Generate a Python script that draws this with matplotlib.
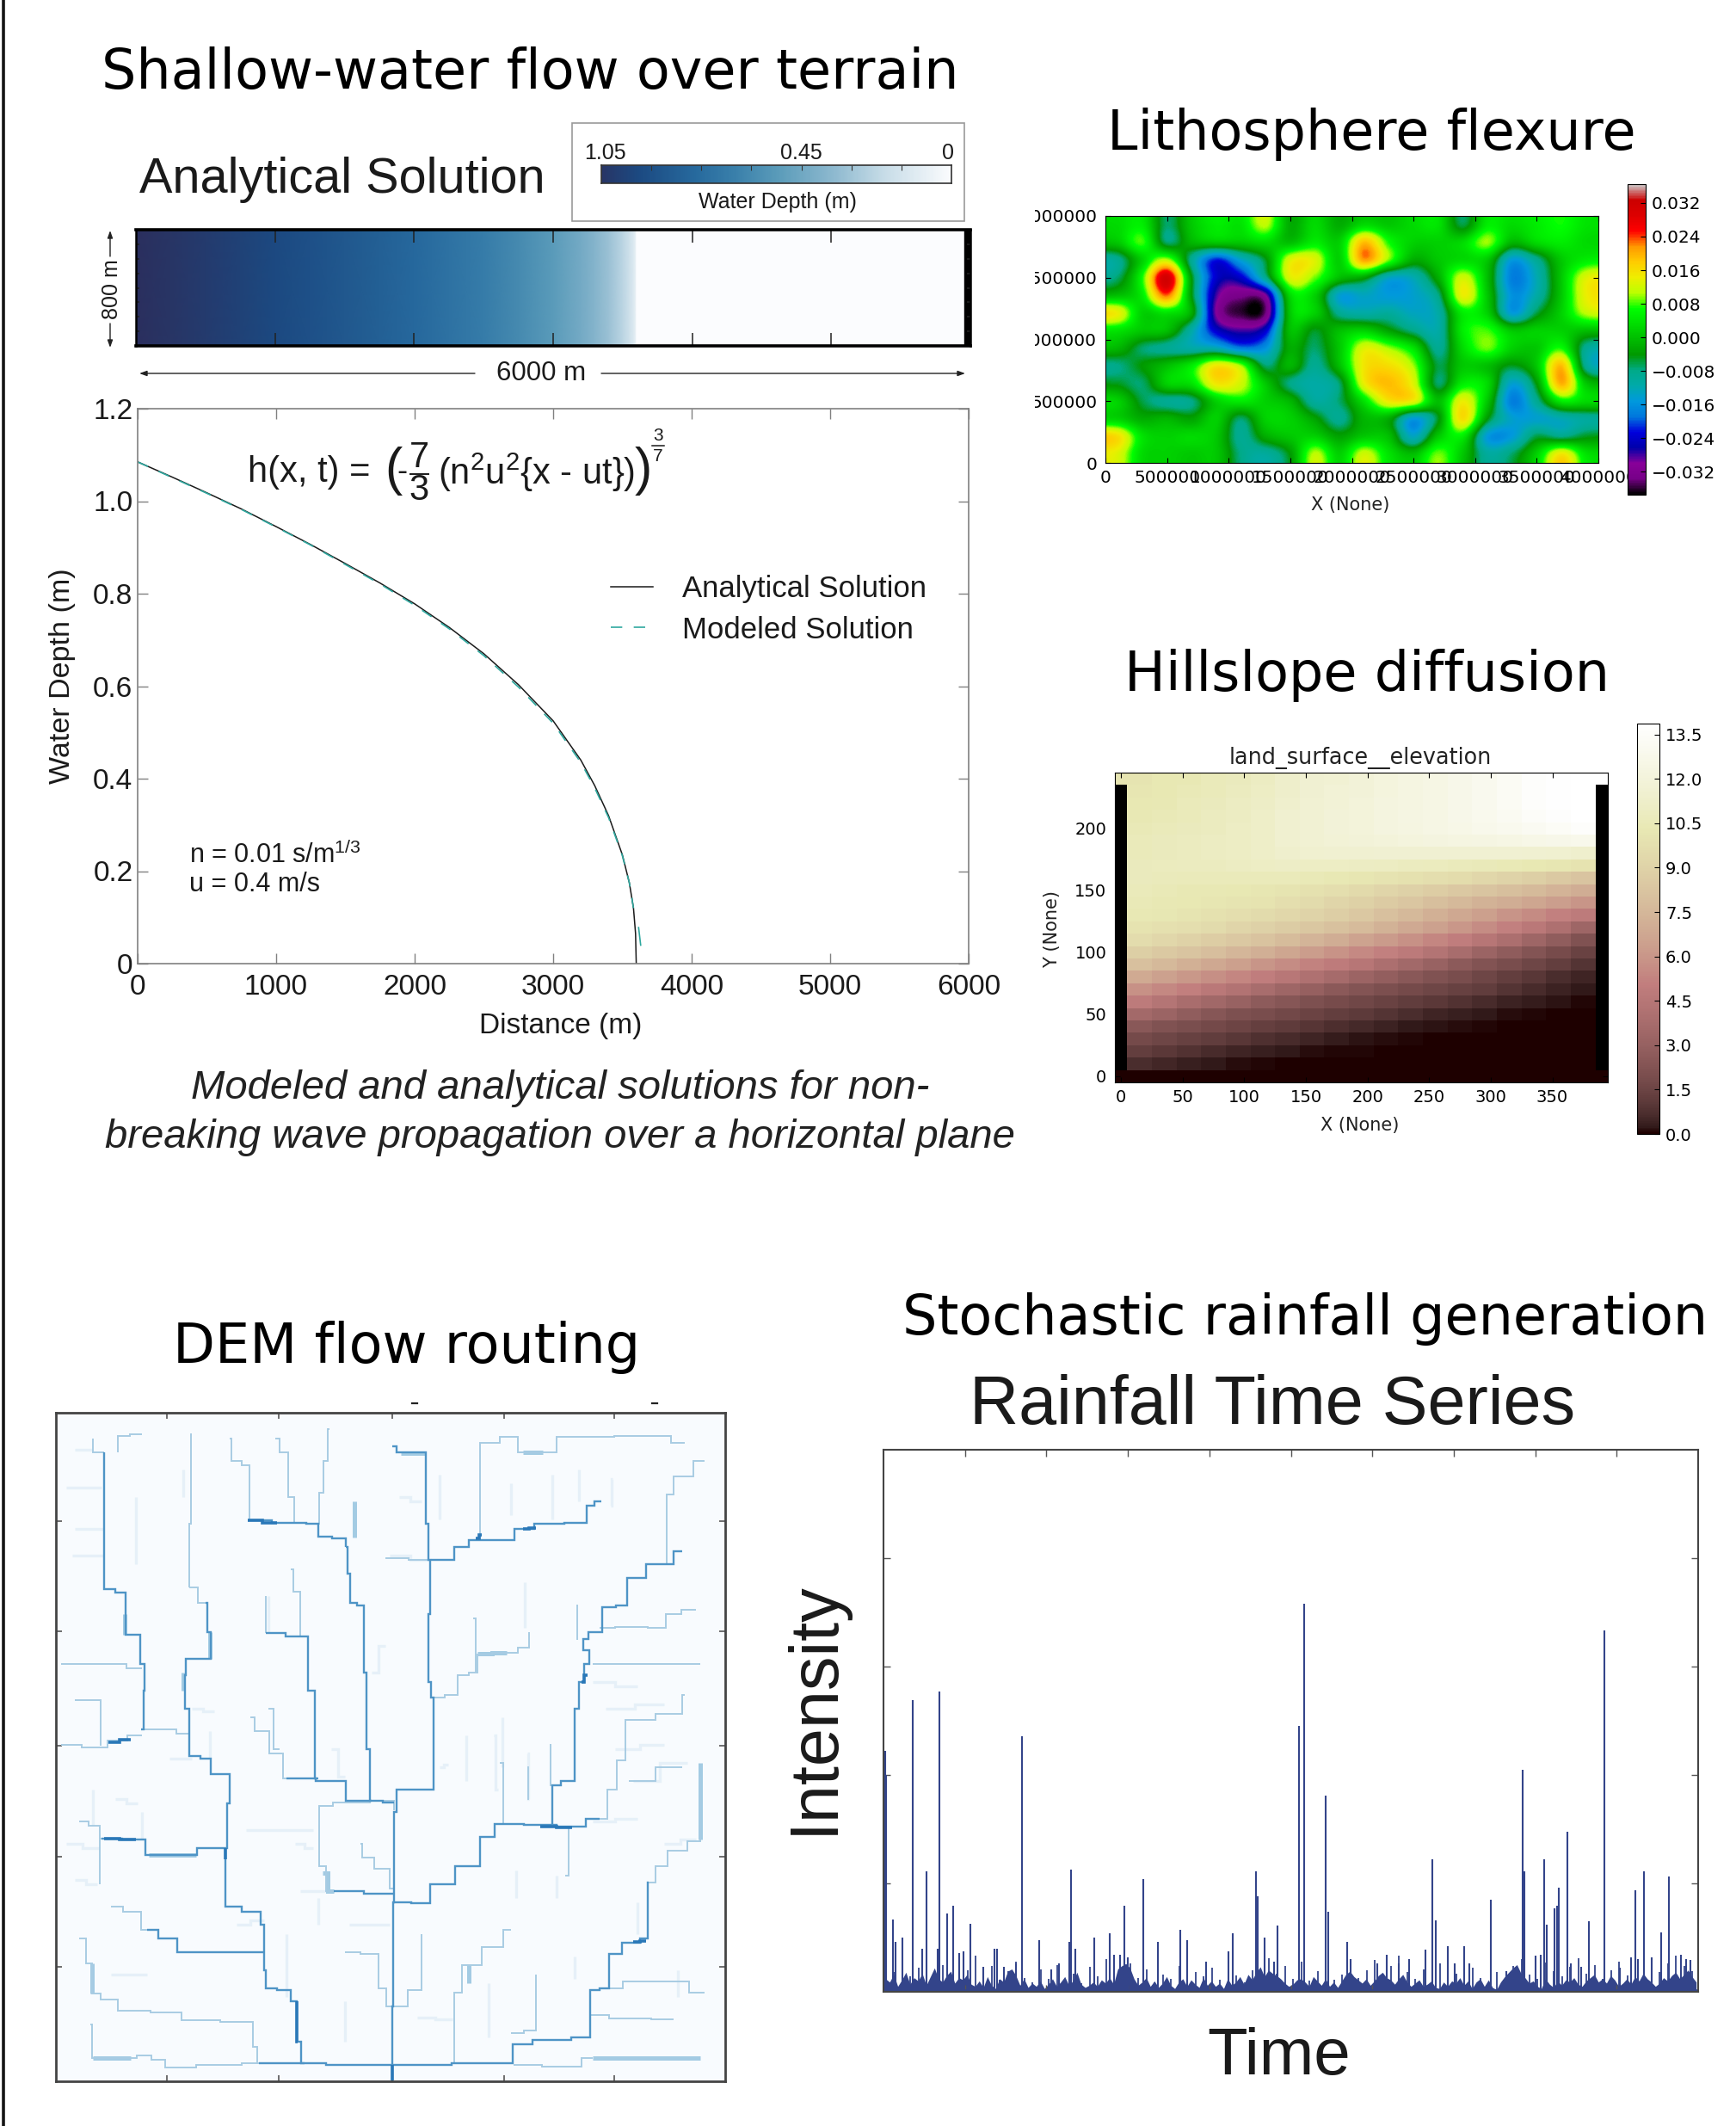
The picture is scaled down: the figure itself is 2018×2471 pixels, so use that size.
import numpy as np
import matplotlib
matplotlib.use('Agg')
import matplotlib.pyplot as plt
from matplotlib.colors import LinearSegmentedColormap
from matplotlib.patches import Rectangle
from matplotlib.ticker import FuncFormatter
from matplotlib.transforms import Bbox

W, H = 2018, 2471

# shallow water curve
distance = [0, 250, 500, 750, 1000, 1250, 1500, 1750, 2000, 2250, 2500, 2750, 3000, 3200, 3300, 3400, 3500, 3550, 3580, 3595, 3600]
analytical = [1.085, 1.052, 1.018, 0.983, 0.945, 0.906, 0.865, 0.823, 0.778, 0.727, 0.670, 0.603, 0.525, 0.44, 0.385, 0.32, 0.235, 0.175, 0.12, 0.065, 0.0]
modeled = [1.085, 1.051, 1.017, 0.982, 0.944, 0.905, 0.863, 0.821, 0.775, 0.724, 0.666, 0.598, 0.52, 0.435, 0.38, 0.316, 0.233, 0.175, 0.12]
modeled_tail_x = [3617, 3632]
modeled_tail_y = [0.078, 0.04]
strip_x = distance + [4000, 6000]
strip_h = analytical + [0.0, 0.0]
water_levels = [0, 0.2, 0.35, 0.52, 0.65, 0.77, 0.94, 1.085]
water_colors = ['#fbfcfe', '#c8dde8', '#8fbad0', '#5b9cba', '#3a80ab', '#276a9e', '#1c4a82', '#2b2f5e']

# lithosphere deflection, thousandths, top row first
flexure = [
    [3, 5, -7, 1, 5, 4, 11, -2, 3, -2, 3, 1, 3, 4, -6, 5, 3, 5, 7, 4],
    [1, 8, -7, -1, 1, 1, 3, 0, 5, 2, 19, 7, 2, 2, 3, 10, -1, 3, 5, 3],
    [-9, 2, 11, -9, -22, -14, -5, 13, 13, 2, 21, 9, -2, 1, 3, 1, -15, -9, 1, 5],
    [-7, 7, 31, -4, -24, -24, -9, 13, 9, 0, -3, -13, -12, -2, 12, 0, -18, -12, 1, 13],
    [0, 5, 23, -4, -28, -33, -30, 3, 2, -14, -13, -15, -14, -8, 14, 1, -16, -11, 1, 14],
    [14, 2, 4, -2, -30, -36, -34, 1, 2, -9, -11, -10, -13, -11, 5, 2, -15, -6, 2, 11],
    [4, 1, 0, -11, -24, -28, -24, 0, -5, 0, 2, -3, -8, -11, 5, 8, 1, 2, 2, 0],
    [-1, -7, -9, -11, -12, -18, -16, -2, -7, 1, 13, 10, 4, -9, 3, 9, 2, 1, 7, -9],
    [-8, -4, 0, 5, 15, 10, -7, -1, -9, 0, 15, 16, 10, -6, 1, 0, -5, 1, 19, -9],
    [-5, -7, 2, 4, 15, 12, 1, -8, -11, -7, 14, 19, 13, -7, 5, 3, -14, -4, 20, 1],
    [2, -6, -9, -8, 2, 5, 2, -1, -10, -7, 4, 15, 14, 0, 14, 1, -18, -9, 5, 3],
    [2, -2, -1, -3, 2, -7, 2, 2, -3, -9, -1, -2, -15, -5, 16, -4, -14, -14, -12, -10],
    [16, 4, 2, 3, 1, -9, -2, 1, 2, -3, 1, 0, -13, 1, 5, -15, -15, -6, -8, -5],
    [13, 3, 2, 1, 1, -8, -10, -4, 11, 2, 12, 4, 0, 9, 1, -10, -7, 2, 15, 4],
]

# hillslope elevation, rows bottom to top, every second column of the interior
elevation = [
    [0.0] * 19,
    [.7, .5, .34, .22, .14, .09, .05, .03, .01, 0, 0, 0, 0, 0, 0, 0, 0, 0, 0],
    [1.25, 1.05, .85, .65, .48, .34, .23, .15, .1, .06, .03, .01, 0, 0, 0, 0, 0, 0, 0],
    [1.8, 1.6, 1.4, 1.2, 1.0, .8, .6, .45, .31, .21, .14, .09, .05, .03, .01, 0, 0, 0, 0],
    [2.5, 2.2, 2.0, 1.75, 1.55, 1.35, 1.15, .95, .74, .55, .4, .27, .18, .11, .06, .03, .01, 0, 0],
    [3.6, 3.2, 2.8, 2.4, 2.1, 1.9, 1.7, 1.5, 1.3, 1.1, .9, .68, .48, .33, .22, .14, .08, .04, .02],
    [4.85, 4.4, 3.9, 3.5, 3.1, 2.7, 2.4, 2.1, 1.85, 1.65, 1.45, 1.23, 1.03, .83, .62, .42, .28, .17, .09],
    [5.8, 5.45, 5.1, 4.7, 4.3, 3.8, 3.4, 3.0, 2.6, 2.3, 2.05, 1.8, 1.6, 1.4, 1.2, .9, .65, .42, .25],
    [6.9, 6.5, 6.1, 5.7, 5.4, 5.0, 4.6, 4.15, 3.7, 3.3, 2.9, 2.5, 2.2, 1.9, 1.6, 1.3, 1.0, .7, .45],
    [8.0, 7.6, 7.2, 6.8, 6.4, 6.0, 5.6, 5.25, 4.9, 4.5, 4.0, 3.55, 3.1, 2.65, 2.25, 1.95, 1.6, 1.25, .9],
    [8.8, 8.5, 8.2, 7.9, 7.5, 7.1, 6.7, 6.3, 5.9, 5.5, 5.15, 4.8, 4.35, 3.8, 3.25, 2.75, 2.3, 1.85, 1.45],
    [9.6, 9.3, 9.0, 8.7, 8.4, 8.15, 7.8, 7.4, 7.0, 6.6, 6.2, 5.8, 5.4, 5.0, 4.5, 4.0, 3.4, 2.8, 2.2],
    [10.0, 9.85, 9.7, 9.5, 9.2, 8.95, 8.65, 8.35, 8.05, 7.7, 7.3, 6.85, 6.45, 6.05, 5.6, 5.2, 4.7, 4.1, 3.4],
    [10.4, 10.25, 10.1, 9.9, 9.7, 9.5, 9.3, 9.05, 8.75, 8.4, 8.0, 7.6, 7.2, 6.8, 6.4, 5.95, 5.55, 5.2, 4.85],
    [10.5, 10.4, 10.3, 10.2, 10.1, 10.0, 9.75, 9.5, 9.2, 8.9, 8.6, 8.3, 7.95, 7.6, 7.3, 7.0, 6.7, 6.35, 6.0],
    [10.6, 10.5, 10.4, 10.4, 10.3, 10.2, 10.1, 9.9, 9.7, 9.45, 9.2, 8.95, 8.7, 8.45, 8.2, 7.95, 7.65, 7.35, 7.0],
    [10.7, 10.65, 10.6, 10.6, 10.6, 10.6, 10.6, 10.5, 10.35, 10.2, 10.05, 9.9, 9.7, 9.55, 9.3, 9.1, 8.8, 8.5, 8.2],
    [10.7, 10.75, 10.8, 10.8, 10.9, 11.0, 11.1, 11.05, 11.0, 10.95, 10.9, 10.8, 10.75, 10.65, 10.55, 10.45, 10.3, 10.2, 10.0],
    [10.6, 10.7, 10.8, 10.9, 11.0, 11.2, 11.4, 11.5, 11.55, 11.55, 11.6, 11.6, 11.6, 11.6, 11.6, 11.6, 11.55, 11.5, 11.4],
    [10.6, 10.7, 10.8, 10.9, 11.0, 11.2, 11.5, 11.7, 11.8, 11.9, 12.0, 12.1, 12.2, 12.3, 12.4, 12.5, 12.6, 12.7, 12.8],
    [10.5, 10.6, 10.7, 10.8, 11.0, 11.2, 11.5, 11.7, 11.9, 12.0, 12.2, 12.3, 12.5, 12.6, 12.8, 13.0, 13.2, 13.4, 13.6],
    [10.4, 10.5, 10.6, 10.8, 10.9, 11.2, 11.5, 11.7, 11.9, 12.0, 12.2, 12.4, 12.5, 12.7, 12.9, 13.2, 13.5, 13.7, 13.9],
    [10.3, 10.4, 10.6, 10.7, 10.9, 11.1, 11.4, 11.7, 11.8, 12.0, 12.2, 12.3, 12.5, 12.7, 13.0, 13.3, 13.6, 13.8, 13.9],
    [10.2, 10.3, 10.5, 10.6, 10.8, 11.0, 11.3, 11.6, 11.8, 11.9, 12.1, 12.3, 12.5, 12.7, 13.0, 13.3, 13.6, 13.8, 13.9],
    [10.1, 10.3, 10.4, 10.6, 10.7, 10.9, 11.3, 11.6, 11.7, 11.9, 12.1, 12.3, 12.5, 12.7, 13.0, 13.3, 13.6, 13.8, 13.9],
]

# rainfall
rain_times = [.2, .3, 1.2, 1.5, 2.3, 3.6, 4.7, 5.3, 6.6, 6.9, 7.8, 8.6, 9.3, 9.8, 10.7, 12.2, 13.6, 13.9, 14.8, 16.3,
              17.0, 19.1, 20.6, 21.5, 22.8, 23.0, 23.5, 25.9, 27.8, 28.3, 29.0, 29.6, 30.0, 31.9, 33.7, 36.4, 37.3,
              39.6, 42.3, 42.9, 45.7, 45.9, 46.8, 47.9, 48.4, 51.0, 51.6, 54.3, 54.6, 56.9, 57.3, 60.6, 61.8, 63.3,
              64.5, 66.5, 67.4, 67.8, 69.3, 70.1, 71.3, 71.9, 74.6, 76.5, 78.5, 78.7, 80.0, 80.7, 81.1, 81.4, 82.4,
              82.7, 82.9, 83.9, 84.4, 85.6, 86.6, 88.5, 90.4, 91.8, 92.3, 92.6, 93.4, 94.3, 95.5, 96.4, 97.9, 98.5, 99.1]
rain_values = [2.22, 2.0, .67, .46, .50, 2.69, .40, 1.11, .40, 2.77, .72, .79, .36, .37, .63, .23, .40, .40, .23, .26,
               2.36, .48, .21, .26, .46, 1.13, .40, .50, .54, .34, .34, .79, .32, 1.04, .46, .57, .48,
               .28, .37, .54, 1.11, .88, .50, .28, .61, 2.45, 3.58, 1.81, .74, .46, .30, .26, .34, .26,
               .30, .39, 1.22, .66, .42, .26, .42, .26, .85, .19, 2.05, 1.11, .33, .34, 1.22, .62, .77,
               .79, .96, 1.48, .26, .23, .65, 3.33, .22, .32, .94, .30, 1.11, .32, .55, 1.06, .34, .30, .29]
rain_base = [.12, .09, .16, .05, .11, .18, .07, .13, .10, .17, .06, .14, .22, .12, .09, .15, .19, .08, .13, .11,
             .16, .07, .05, .10, .04, .14, .06, .03, .12, .09, .19, .21, .15, .06, .12, .04, .08, .05, .10, .03,
             .07, .12, .05, .09, .14, .06, .10, .18, .07, .04, .06, .09, .05, .11, .08, .13, .07, .21, .24, .26,
             .22, .12, .06, .09, .13, .05, .10, .04, .08, .14, .06, .03, .09, .12, .05, .11, .07, .04, .13, .06,
             .10, .05, .08, .03, .12, .06, .09, .14, .07, .16, .11, .18, .23, .14, .20, .17, .15, .12, .08, .05,
             .07, .11, .12, .09, .05, .14, .10, .06, .12, .05, .09, .04, .10, .16, .19, .14, .11, .08, .12, .06,
             .10, .15, .18, .13, .11, .07, .12, .16, .09, .05, .08, .11, .05, .07, .10, .04, .03, .09, .05, .10,
             .08, .13, .06, .10, .03, .09, .12, .05, .11, .04, .02, .09, .14, .18, .22, .25, .17, .13, .08, .10,
             .05, .03, .12, .07, .04, .10, .06, .11, .09, .13, .07, .05, .10, .13, .16, .09, .12, .08, .15, .11,
             .05, .08, .12, .07, .14, .10, .17, .12, .09, .05, .08, .13, .10, .15, .18, .12, .16, .20, .14, .09]
rain_small = [.31, .18, .27, .14, .22, .35, .16, .25, .12, .29, .20, .33, .15, .24, .11, .19, .28, .13, .09, .21,
              .12, .25, .10, .17, .08, .23, .14, .30, .11, .19, .26, .13, .21, .09, .16, .12, .24, .10, .18, .14,
              .22, .11, .27, .15, .09, .20, .13, .31, .17, .24, .12, .28, .10, .19, .23, .11, .16, .25, .13, .20,
              .29, .15, .24, .33, .18, .12, .21, .09, .26, .14, .17, .10, .22, .13, .09, .18, .11, .24, .30, .16,
              .12, .27, .19, .14, .23, .31, .17, .25, .12, .20, .28, .15, .22, .11, .29, .18, .26, .33, .24, .19]

# flow network, channel paths on the DEM grid
main_channels = [
    [(795, 1525), (795, 1360), (800, 1130), (800, 930), (808, 880), (888, 880), (888, 675), (875, 640), (875, 490), (882, 370), (870, 290), (868, 130), (815, 130), (795, 118)],
    [(882, 370), (920, 370), (945, 340), (985, 325), (1045, 325), (1090, 300), (1130, 290), (1225, 288), (1228, 250), (1260, 240)],
    [(692, 340), (700, 400), (705, 465), (728, 470), (735, 620), (740, 790), (750, 905), (800, 908)],
    [(475, 282), (580, 288), (630, 290), (630, 318), (692, 322), (692, 340)],
    [(155, 130), (155, 435), (205, 442), (200, 535), (230, 535), (242, 600), (248, 660), (238, 745)],
    [(425, 1010), (425, 1140), (495, 1150), (510, 1180), (510, 1280), (520, 1320), (560, 1325), (580, 1350), (585, 1440), (600, 1487)],
    [(500, 1487), (795, 1490), (1060, 1487), (1065, 1445), (1150, 1435), (1235, 1430), (1235, 1325), (1275, 1320), (1280, 1245), (1330, 1220), (1360, 1210), (1365, 1085)],
    [(800, 1130), (875, 1132), (885, 1090), (985, 1050), (995, 985), (1050, 955), (1125, 958), (1195, 962), (1255, 945)],
    [(1150, 958), (1150, 870), (1190, 860), (1210, 700), (1210, 640), (1235, 600), (1230, 570), (1208, 545), (1255, 530), (1270, 475), (1315, 470), (1320, 410), (1400, 380), (1440, 350)],
    [(150, 988), (240, 990), (255, 1025), (360, 1025), (362, 1010), (425, 1010), (430, 910), (437, 845), (395, 845), (390, 810), (350, 805), (340, 700), (330, 625), (345, 590), (395, 590), (390, 530), (380, 465)],
    [(560, 855), (690, 860), (695, 905), (750, 905)],
    [(630, 855), (615, 660), (600, 540), (515, 532)],
    [(665, 1105), (800, 1110)],
    [(510, 1240), (335, 1240), (300, 1210), (250, 1190)],
]
side_channels = [
    [(985, 325), (995, 110), (1075, 97), (1075, 130), (1130, 130), (1190, 97), (1385, 95), (1445, 110)],
    [(475, 282), (480, 160), (440, 150), (435, 100)],
    [(580, 285), (575, 230), (555, 130), (535, 100)],
    [(630, 290), (635, 220), (650, 150), (655, 80)],
    [(560, 855), (545, 800), (500, 750), (480, 720)],
    [(155, 130), (130, 130), (130, 100)],
    [(185, 130), (185, 95), (240, 90)],
    [(345, 430), (345, 290), (350, 90)],
    [(380, 465), (345, 430)],
    [(238, 745), (290, 745), (340, 755), (350, 805)],
    [(240, 760), (175, 770), (150, 785), (60, 780)],
    [(150, 988), (140, 960), (100, 950)],
    [(225, 1150), (170, 1140)],
    [(250, 1190), (225, 1150)],
    [(128, 1265), (128, 1332), (165, 1345), (205, 1370), (310, 1375), (345, 1392), (480, 1395), (490, 1450), (500, 1487)],
    [(130, 1475), (215, 1475), (240, 1470), (280, 1480), (300, 1497), (420, 1490), (500, 1487)],
    [(1065, 1490), (1190, 1495), (1240, 1475)],
    [(1235, 1380), (1320, 1388), (1420, 1390)],
    [(1275, 1320), (1340, 1305), (1420, 1305), (1490, 1330)],
    [(795, 1360), (770, 1320), (760, 1245), (690, 1240)],
    [(930, 1487), (935, 1330), (965, 1270), (1025, 1230), (1060, 1190)],
    [(800, 1360), (860, 1325), (860, 1200)],
    [(1060, 1420), (1115, 1415), (1115, 1290)],
    [(888, 675), (935, 670), (945, 625), (985, 620), (985, 580), (1050, 575), (1100, 565), (1100, 530)],
    [(985, 620), (975, 500)],
    [(1195, 962), (1180, 1070)],
    [(1255, 520), (1325, 518), (1400, 520), (1405, 490), (1470, 480)],
    [(1240, 600), (1480, 600)],
    [(1400, 380), (1410, 260), (1400, 225), (1440, 185), (1490, 150)],
    [(1255, 945), (1290, 880), (1300, 815), (1325, 725), (1435, 712), (1445, 670)],
    [(1365, 1085), (1395, 1050), (1420, 1015), (1480, 995), (1480, 850)],
    [(800, 1100), (780, 1055), (730, 1030), (725, 1000)],
    [(800, 925), (800, 905), (690, 908), (635, 915), (630, 1050), (665, 1105)],
    [(600, 540), (580, 440), (570, 390)],
    [(515, 532), (515, 450)],
    [(60, 600), (170, 600), (240, 610)],
    [(90, 680), (145, 680), (150, 780)],
    [(780, 365), (882, 370)],
    [(125, 1400), (130, 1475)],
    [(1208, 545), (1205, 470)],
    [(1050, 955), (1035, 820)],
    [(1100, 900), (1095, 830)],
    [(100, 1210), (130, 1265)],
    [(145, 990), (145, 1090)],
    [(1150, 870), (1145, 780)],
    [(520, 700), (545, 790)],
    [(1320, 860), (1440, 830)],
]
wide_channels = [
    [(130, 1475), (215, 1475)],
    [(1240, 1475), (1480, 1475)],
    [(255, 1025), (360, 1025)],
    [(128, 1265), (128, 1332)],
    [(200, 490), (200, 535)],
    [(330, 620), (330, 660)],
    [(390, 530), (390, 590)],
    [(712, 240), (712, 320)],
    [(815, 132), (868, 132)],
    [(1480, 820), (1480, 990)],
    [(1085, 130), (1130, 130)],
    [(985, 578), (1050, 575)],
    [(640, 1065), (665, 1105)],
    [(965, 1270), (965, 1310)],
]
dark_channels = [
    [(1125, 962), (1195, 964)],
    [(165, 775), (215, 768)],
    [(425, 1010), (425, 1035)],
    [(795, 1490), (795, 1525)],
    [(1085, 300), (1115, 298)],
    [(980, 322), (995, 315)],
    [(583, 1350), (585, 1440)],
    [(1215, 640), (1230, 625)],
    [(1330, 1218), (1360, 1215)],
    [(155, 988), (225, 990)],
    [(475, 282), (540, 288)],
]
faint_channels = [
    [(70, 210), (150, 210)], [(90, 125), (130, 125)], [(330, 170), (330, 230)], [(520, 450), (520, 530)],
    [(85, 360), (155, 360)], [(225, 230), (225, 380)], [(790, 360), (880, 370)], [(1240, 640), (1340, 650)],
    [(1020, 760), (1030, 880)], [(1095, 800), (1100, 900)], [(1290, 790), (1400, 780)], [(1330, 860), (1450, 820)],
    [(590, 1105), (665, 1105)], [(700, 1180), (790, 1180)], [(1040, 720), (1040, 830)], [(240, 930), (240, 990)],
    [(390, 750), (390, 810)], [(130, 880), (130, 960)], [(1160, 1120), (1160, 1070)], [(1070, 1060), (1070, 1120)],
    [(630, 1120), (630, 1180)], [(560, 1200), (560, 1340)], [(1200, 1300), (1200, 1250)], [(1430, 1280), (1430, 1340)],
    [(450, 1180), (510, 1170)], [(1280, 250), (1285, 190)], [(1210, 170), (1210, 240)], [(1090, 420), (1090, 520)],
    [(1400, 1000), (1470, 990)], [(180, 900), (230, 910)], [(350, 700), (400, 705)], [(660, 790), (690, 850)],
    [(780, 560), (750, 620)], [(900, 830), (920, 825)], [(810, 230), (860, 240)], [(1240, 950), (1340, 945)],
    [(70, 1000), (145, 1010)], [(90, 300), (155, 300)], [(90, 1080), (140, 1090)], [(170, 1290), (250, 1290)],
    [(1150, 180), (1150, 280)], [(1060, 200), (1060, 270)], [(900, 180), (900, 280)], [(1270, 700), (1400, 690)],
    [(1340, 1130), (1340, 1200)], [(1010, 1310), (1010, 1430)], [(690, 1350), (690, 1440)], [(850, 1385), (930, 1390)],
    [(580, 1000), (620, 1010)], [(470, 970), (620, 970)], [(960, 760), (960, 860)], [(300, 810), (350, 810)],
]
dem_xticks = [295, 543, 795, 1043, 1288]
dem_yticks = [283, 528, 782, 1028, 1273]

plt.rcParams['mathtext.fontset'] = 'custom'
plt.rcParams['mathtext.rm'] = 'Liberation Sans'
plt.rcParams['mathtext.it'] = 'Liberation Sans:italic'
plt.rcParams['mathtext.bf'] = 'Liberation Sans:bold'

fig = plt.figure(figsize=(W / 100, H / 100), dpi=100, facecolor='white')


def px_axes(x0, y0, x1, y1, **kw):
    return fig.add_axes([x0 / W, 1 - y1 / H, (x1 - x0) / W, (y1 - y0) / H], **kw)


page = px_axes(0, 0, W, H)
page.set_xlim(0, W)
page.set_ylim(H, 0)
page.axis('off')
page.set_zorder(10)
page.plot([3.5, 3.5], [0, H], color='#151515', lw=2.6)

''' Заголовки панелей '''
title_font = dict(family='DejaVu Sans', fontsize=45.8, ha='center', va='center', color='black')
page.text(616, 85, 'Shallow-water flow over terrain', **title_font)
page.text(1594, 156, 'Lithosphere flexure', **title_font)
page.text(1589, 785, 'Hillslope diffusion', **title_font)
page.text(473, 1566, 'DEM flow routing', **title_font)
page.text(1517, 1533, 'Stochastic rainfall generation', **title_font)

''' Shallow water '''
helv = dict(family='Liberation Sans', color='#1a1a1a')
water_cmap = LinearSegmentedColormap.from_list('water', [(v / water_levels[-1], c) for v, c in zip(water_levels, water_colors)])

page.text(162, 209, 'Analytical Solution', fontsize=41.5, ha='left', va='center', **helv)
page.add_patch(Rectangle((665, 143), 456, 114, fill=False, ec='#999999', lw=1.2))
page.text(703, 178, '1.05', fontsize=18, ha='center', va='center', **helv)
page.text(931, 178, '0.45', fontsize=18, ha='center', va='center', **helv)
page.text(1102, 178, '0', fontsize=18, ha='center', va='center', **helv)
page.text(904, 235, 'Water Depth (m)', fontsize=18, ha='center', va='center', **helv)

bar = px_axes(699, 192, 1106, 213)
bar.imshow(np.linspace(1.05, 0, 300)[None, :], cmap=water_cmap, vmin=0, vmax=water_levels[-1], aspect='auto', extent=[1.05, 0, 0, 1])
bar.set_xticks(np.arange(0.15, 1.05, 0.15))
bar.set_yticks([])
bar.tick_params(axis='x', direction='in', top=True, bottom=False, labelbottom=False, length=4, color='#333333')
for s in bar.spines.values():
    s.set_color('#333333')
    s.set_linewidth(1.2)

strip = px_axes(158, 267, 1128, 402)
strip.pcolormesh(strip_x, [0, 800], np.vstack([strip_h, strip_h]), shading='gouraud', cmap=water_cmap, vmin=0, vmax=water_levels[-1])
strip.axvspan(5955, 6000, color='black')
strip.set_xlim(0, 6000)
strip.set_ylim(0, 800)
strip.set_xticks(np.arange(1000, 6000, 1000))
strip.set_yticks(np.arange(100, 800, 100))
strip.tick_params(direction='in', top=True, right=True, labelbottom=False, labelleft=False, length=11, width=1.1, color='#222222')
strip.tick_params(axis='y', length=3)
for side, lw in [('top', 2.6), ('bottom', 2.6), ('left', 1.8), ('right', 1.8)]:
    strip.spines[side].set_linewidth(lw)

arrow = dict(arrowstyle='-|>,head_width=0.18,head_length=0.5', color='#222222', lw=1.0, shrinkA=0, shrinkB=0)
page.annotate('', xy=(128, 268), xytext=(128, 298), arrowprops=arrow)
page.annotate('', xy=(128, 404), xytext=(128, 376), arrowprops=arrow)
page.text(130, 336, '800 m', fontsize=18, rotation=90, ha='center', va='center', **helv)
page.annotate('', xy=(162, 434), xytext=(552, 434), arrowprops=arrow)
page.annotate('', xy=(1122, 434), xytext=(699, 434), arrowprops=arrow)
page.text(629, 434, '6000 m', fontsize=22.5, ha='center', va='center', **helv)

ax = px_axes(160, 475, 1126, 1120)
ax.plot(distance, analytical, color='#1a1a1a', lw=1.1, label='Analytical Solution')
ax.plot(distance[:len(modeled)], modeled, color='#2fa89f', lw=1.2, ls=(0, (8, 8)), label='Modeled Solution')
ax.plot(modeled_tail_x, modeled_tail_y, color='#2fa89f', lw=1.2)
ax.set_xlim(0, 6000)
ax.set_ylim(0, 1.2)
ax.set_xticks(np.arange(0, 7000, 1000))
ax.set_yticks([0, 0.2, 0.4, 0.6, 0.8, 1.0, 1.2])
ax.set_yticklabels(['0', '0.2', '0.4', '0.6', '0.8', '1.0', '1.2'])
ax.tick_params(direction='in', top=True, right=True, length=8.5, width=1, color='#808080', labelsize=24, labelcolor='#1a1a1a')
ax.tick_params(axis='x', pad=9)
ax.tick_params(axis='y', pad=4)
for label in ax.get_xticklabels() + ax.get_yticklabels():
    label.set_family('Liberation Sans')
for s in ax.spines.values():
    s.set_color('#808080')
    s.set_linewidth(1.2)
ax.legend(loc='upper left', bbox_to_anchor=(710 / W, 1 - 668 / H), bbox_transform=fig.transFigure, frameon=False,
          borderpad=0, borderaxespad=0, handlelength=1.42, handletextpad=0.98, labelspacing=0.42,
          prop=dict(family='Liberation Sans', size=25), labelcolor='#1a1a1a')
page.text(73, 786, 'Water Depth (m)', fontsize=24.5, rotation=90, ha='center', va='center', **helv)
page.text(652, 1192, 'Distance (m)', fontsize=24, ha='center', va='center', **helv)

# formula set piece by piece
page.text(288, 549, 'h(x, t) =', fontsize=30, ha='left', va='center', **helv)
page.text(447, 547, '(', fontsize=44, ha='left', va='center', **helv)
page.text(461, 549, '-', fontsize=26, ha='left', va='center', **helv)
page.text(487, 532, '7', fontsize=30, ha='center', va='center', **helv)
page.text(487, 570, '3', fontsize=30, ha='center', va='center', **helv)
page.plot([477, 498], [551, 551], color='#1a1a1a', lw=1.4)
page.text(509, 549, '(n$^2$u$^2${x - ut})', fontsize=30, ha='left', va='center', **helv)
page.text(738, 547, ')', fontsize=44, ha='left', va='center', **helv)
page.text(765, 507, '3', fontsize=15, ha='center', va='center', **helv)
page.text(765, 530, '7', fontsize=15, ha='center', va='center', **helv)
page.plot([758, 772], [518, 518], color='#1a1a1a', lw=1.1)

page.text(220, 994, r'n = 0.01 s/m$^{1/3}$', fontsize=22, ha='left', va='center', **helv)
page.text(220, 1028, 'u = 0.4 m/s', fontsize=22, ha='left', va='center', **helv)
caption = dict(family='Liberation Sans', style='italic', fontsize=34, color='#222222', ha='center', va='center')
page.text(651, 1265, 'Modeled and analytical solutions for non-', **caption)
page.text(651, 1322, 'breaking wave propagation over a horizontal plane', **caption)

''' Lithosphere '''
ax = px_axes(1285, 251, 1858, 538)
im = ax.imshow(np.array(flexure) / 1000, cmap='nipy_spectral', vmin=-0.0375, vmax=0.0365, aspect='auto',
               extent=[0, 4000000, 0, 2000000], interpolation='catrom')
ax.set_xticks(np.arange(0, 4500000, 500000))
ax.set_yticks(np.arange(0, 2500000, 500000))
ax.set_xticklabels(['0', '500000', '1000000', '1500000', '2000000', '2500000', '3000000', '3500000', '4000000'])
ax.set_yticklabels(['0', '500000', '1000000', '1500000', '2000000'])
ax.tick_params(direction='in', top=True, right=True, length=4, labelsize=14.4, pad=6)
ax.tick_params(axis='y', pad=7)
for label in ax.get_yticklabels():
    label.set_clip_on(True)
    label.set_clip_box(Bbox([[1203, 0], [W, H]]))
page.text(1570, 587, 'X (None)', fontsize=15, ha='center', va='center', color='#222222')
cax = px_axes(1892, 214, 1913, 575)
cb = fig.colorbar(im, cax=cax, ticks=np.arange(-0.032, 0.033, 0.008),
                  format=FuncFormatter(lambda v, pos: f'{v:.3f}'.replace('-', '\u2212')))
cb.ax.tick_params(direction='in', length=4, labelsize=14.4, pad=5)

''' Hillslope '''
grid = np.repeat(np.array(elevation), 2, axis=1)
grid = np.hstack([grid[:, :1], grid, grid[:, -1:]])
mask = np.zeros(grid.shape, dtype=bool)
mask[1:-1, 0] = True
mask[1:-1, -1] = True
pink = plt.get_cmap('pink').copy()
pink.set_bad('black')
ax = px_axes(1296, 898, 1869, 1258)
im = ax.imshow(np.ma.array(grid, mask=mask), cmap=pink, vmin=0, vmax=13.87, origin='lower', aspect='auto',
               extent=[-5, 395, -5, 245], interpolation='nearest')
ax.set_xticks(np.arange(0, 400, 50))
ax.set_yticks(np.arange(0, 250, 50))
ax.tick_params(direction='in', top=True, right=True, length=4, labelsize=14, pad=6)
ax.tick_params(axis='y', pad=7)
page.text(1581, 881, 'land_surface__elevation', fontsize=18.4, ha='center', va='center', color='#222222')
page.text(1581, 1308, 'X (None)', fontsize=15, ha='center', va='center', color='#222222')
page.text(1223, 1080, 'Y (None)', fontsize=15, rotation=90, ha='center', va='center', color='#222222')
cax = px_axes(1903, 841, 1929, 1318)
cb = fig.colorbar(im, cax=cax, ticks=np.arange(0, 14, 1.5), format='%.1f')
cb.ax.tick_params(direction='in', length=4, labelsize=14, pad=5)

''' DEM '''
page.plot([479, 485], [1631, 1631], color='#222222', lw=1.6)
page.plot([758, 764], [1631, 1631], color='#222222', lw=1.6)
ax = px_axes(65, 1642, 843, 2419, facecolor='#f8fbfe')
ax.set_xlim(48, 1535)
ax.set_ylim(1527, 43)
for group, colour, lw in [(faint_channels, '#e6f0f8', 2.4), (wide_channels, '#a3cbe3', 3.6),
                          (side_channels, '#a8cce3', 1.4), (main_channels, '#4e94c6', 1.7),
                          (dark_channels, '#2a78b8', 2.6)]:
    for path in group:
        xs, ys = zip(*path)
        ax.plot(xs, ys, color=colour, lw=lw, drawstyle='steps-mid', solid_joinstyle='miter', solid_capstyle='butt')
ax.set_xticks(dem_xticks)
ax.set_yticks(dem_yticks)
ax.tick_params(direction='in', top=True, right=True, labelbottom=False, labelleft=False, length=5, width=1.2, color='#555555')
for s in ax.spines.values():
    s.set_color('#444444')
    s.set_linewidth(2)

''' Rainfall '''
ax = px_axes(1027, 1685, 1974, 2315)
rain_colour = '#33448a'
base_t = (np.arange(len(rain_base)) + 0.5) * 100 / len(rain_base)
small_t = (np.arange(len(rain_small)) + 0.3) * 100 / len(rain_small)
ax.fill_between(base_t, rain_base, color=rain_colour, lw=0)
ax.vlines(small_t, 0, rain_small, color=rain_colour, lw=1.3)
ax.vlines(rain_times, 0, rain_values, color=rain_colour, lw=1.5)
ax.axhline(0, color=rain_colour, lw=4)
ax.set_xlim(0, 100)
ax.set_ylim(0, 5)
ax.set_xticks(np.arange(10, 100, 10))
ax.set_yticks([1, 2, 3, 4])
ax.tick_params(direction='in', top=True, right=True, labelbottom=False, labelleft=False, length=6, width=1, color='#555555')
for s in ax.spines.values():
    s.set_color('#444444')
    s.set_linewidth(1.5)
page.text(1479, 1634, 'Rainfall Time Series', fontsize=57, ha='center', va='center', **helv)
page.text(947, 1985, 'Intensity', fontsize=57, rotation=90, ha='center', va='center', **helv)
page.text(1487, 2392, 'Time', fontsize=55, ha='center', va='center', **helv)

fig.savefig('out.png', dpi=100)
